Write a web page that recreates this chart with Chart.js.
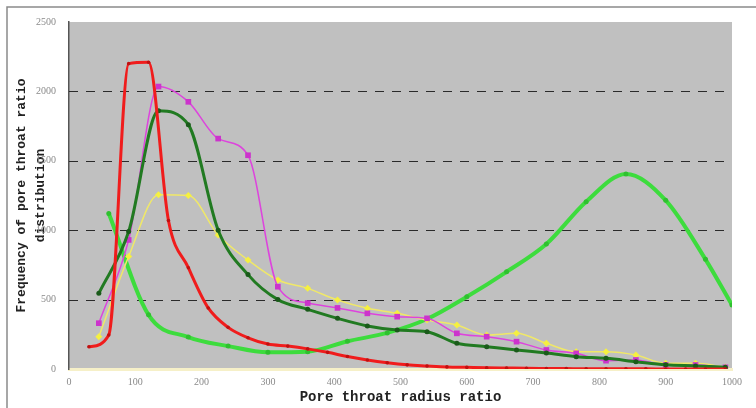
<!DOCTYPE html>
<html>
<head>
<meta charset="utf-8">
<script src="https://cdn.jsdelivr.net/npm/chart.js@4/dist/chart.umd.min.js"></script>
<style>
  html, body { margin: 0; padding: 0; background: #fff; }
  #wrap { width: 756px; height: 408px; }
</style>
</head>
<body>
<div id="wrap"><canvas id="c" width="756" height="408"></canvas></div>
<script>
// ── DATA ──────────────────────────────────────────────────────────────────────

// shared x positions of the marked series (magenta, dark green, yellow)
const sharedX   = [45, 90, 135, 180, 225, 270, 315, 360, 405, 450, 495, 540, 585, 630, 675, 720, 765, 810, 855, 900, 945, 990];
const magentaY  = [330, 930, 2035, 1925, 1660, 1540, 593, 475, 440, 401, 377, 365, 257, 233, 197, 137, 113, 60, 65, 29, 29, 12];
const darkGreenY= [545, 990, 1860, 1760, 1000, 680, 500, 430, 365, 310, 281, 269, 185, 161, 137, 115, 89, 77, 53, 30, 22, 12];
const yellowY   = [233, 810, 1255, 1250, 965, 785, 641, 581, 497, 437, 401, 353, 317, 245, 257, 185, 125, 125, 101, 41, 41, 12];

const redX = [30, 60, 90, 120, 150, 180, 210, 240, 270, 300, 330, 360, 390, 420, 450, 480, 510, 540, 570, 600, 630, 660, 690, 720, 750, 780, 810, 840, 870, 900, 930, 960, 990];
const redY = [160, 245, 2200, 2210, 1070, 730, 440, 300, 225, 180, 165, 145, 120, 90, 65, 45, 30, 22, 15, 12, 9, 7, 5, 4, 3, 2, 2, 1, 1, 0, 0, 0, 0];

const lightGreenX = [60, 120, 180, 240, 300, 360, 420, 480, 540, 600, 660, 720, 780, 840, 900, 960, 1000];
const lightGreenY = [1120, 390, 230, 165, 120, 125, 200, 260, 360, 520, 700, 900, 1205, 1405, 1215, 790, 461];

const xTicks = [0, 100, 200, 300, 400, 500, 600, 700, 800, 900, 1000];
const yTicks = [0, 500, 1000, 1500, 2000, 2500];

const pts = (xs, ys) => xs.map((x, i) => ({ x, y: ys[i] }));

// ── PLUGINS ───────────────────────────────────────────────────────────────────

const backdrop = {
  id: 'backdrop',
  beforeDraw(chart) {
    const { ctx, chartArea: a } = chart;
    ctx.save();
    ctx.fillStyle = '#fff';
    ctx.fillRect(0, 0, chart.width, chart.height);
    // outer frame
    ctx.strokeStyle = '#8a8a8a';
    ctx.lineWidth = 1.5;
    ctx.beginPath();
    ctx.moveTo(7, 408);
    ctx.lineTo(7, 7);
    ctx.lineTo(756, 7);
    ctx.stroke();
    // plot area
    ctx.fillStyle = '#c0c0c0';
    ctx.fillRect(a.left, a.top, a.right - a.left, a.bottom - a.top);
    ctx.restore();
  },
};

const dashGrid = {
  id: 'dashGrid',
  beforeDatasetsDraw(chart) {
    // dashed horizontal lines at the inner y ticks
    const { ctx, chartArea: a, scales: { y } } = chart;
    ctx.save();
    ctx.strokeStyle = '#2a2a2a';
    ctx.lineWidth = 1;
    ctx.setLineDash([9, 8]);
    yTicks.slice(1, -1).forEach(v => {
      const py = Math.round(y.getPixelForValue(v)) + 0.5;
      ctx.beginPath();
      ctx.moveTo(a.left, py);
      ctx.lineTo(a.right, py);
      ctx.stroke();
    });
    ctx.restore();
  },
};

// ── CHART ─────────────────────────────────────────────────────────────────────

const line = (data, color, width, extra) => Object.assign({
  data, borderColor: color, backgroundColor: color, borderWidth: width,
  pointRadius: 0, fill: false, cubicInterpolationMode: 'monotone',
}, extra);

const tickFont = { family: 'Liberation Serif', size: 10 };

new Chart(document.getElementById('c'), {
  type: 'line',
  data: {
    datasets: [
      line(pts(redX, redY), '#f01c1c', 3, { order: 1, pointRadius: 1.8, pointBackgroundColor: '#c01010', pointBorderWidth: 0 }),
      line(pts(sharedX, darkGreenY), '#217a21', 3, { order: 2, pointRadius: 2.5, pointBackgroundColor: '#1a5a1a', pointBorderWidth: 0 }),
      line(pts(sharedX, magentaY), '#dd44dd', 1.5, { order: 3, pointRadius: 4, pointStyle: 'rect', pointBackgroundColor: '#cc33cc', pointBorderWidth: 0 }),
      line(pts(sharedX, yellowY), '#f0e868', 1.5, { order: 4, pointRadius: 3.5, pointStyle: 'rectRot', pointBackgroundColor: '#f5f040', pointBorderWidth: 0 }),
      line(pts(lightGreenX, lightGreenY), '#3ddc3d', 4, { order: 5, pointRadius: 2.5, pointBackgroundColor: '#2fc02f', pointBorderWidth: 0 }),
    ],
  },
  options: {
    responsive: false,
    animation: false,
    devicePixelRatio: 1,
    layout: { padding: { left: 0, top: 22, right: 24, bottom: 0 } },
    plugins: { legend: { display: false }, tooltip: { enabled: false } },
    scales: {
      x: {
        type: 'linear', min: 0, max: 1000,
        afterBuildTicks: s => { s.ticks = xTicks.map(v => ({ value: v })); },
        afterFit: s => { s.height = 39; },
        grid: { display: false, drawTicks: false },
        border: { display: true, color: '#f6f0c8', width: 3 },
        ticks: { color: '#8a8a8a', padding: 7, font: tickFont, callback: v => String(v) },
        title: {
          display: true, text: 'Pore throat radius ratio', color: '#222',
          padding: { top: 0, bottom: 2 },
          font: { family: 'Liberation Mono', size: 14, weight: 'bold' },
        },
      },
      y: {
        min: 0, max: 2500,
        afterBuildTicks: s => { s.ticks = yTicks.map(v => ({ value: v })); },
        afterFit: s => { s.width = 69; },
        grid: { display: false, drawTicks: false },
        border: { display: true, color: '#555', width: 1.5 },
        ticks: { color: '#8a8a8a', padding: 13, font: tickFont, callback: v => String(v) },
        title: {
          display: true, text: ['Frequency of pore throat ratio', 'distribution'], color: '#222',
          padding: { top: 13, bottom: 0 },
          font: { family: 'Liberation Mono', size: 13, weight: 'bold', lineHeight: 1.4 },
        },
      },
    },
  },
  plugins: [backdrop, dashGrid],
});
</script>
</body>
</html>
